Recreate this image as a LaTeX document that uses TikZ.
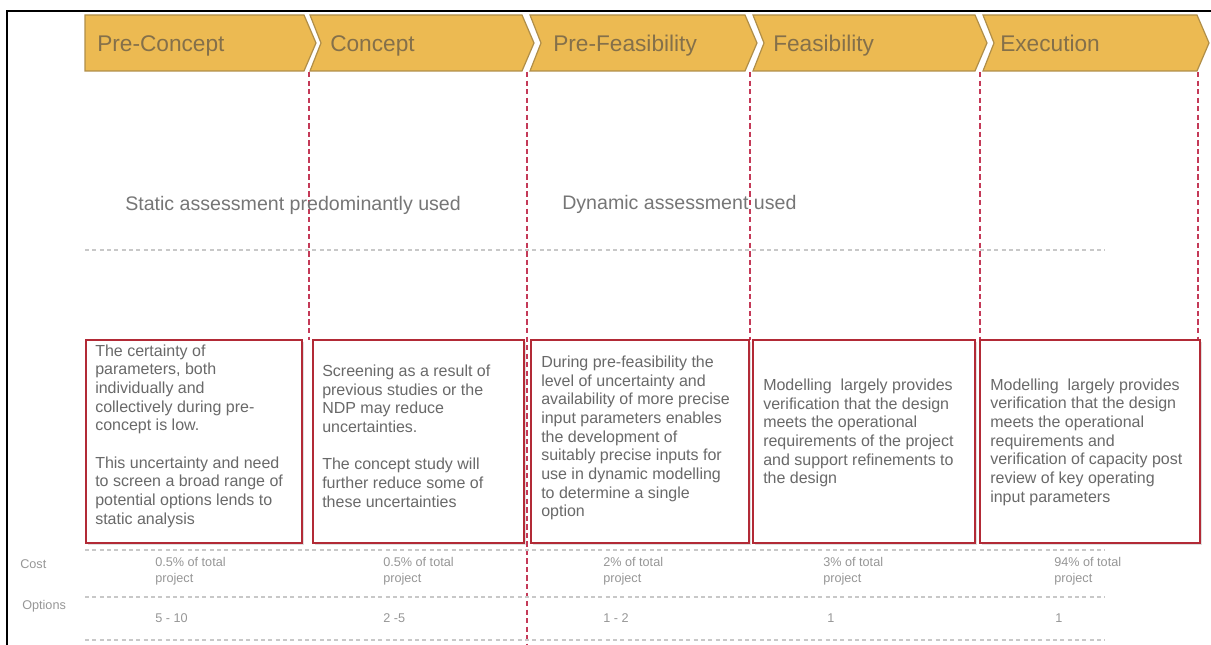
\documentclass[tikz,border=0pt]{standalone}
\usepackage{fontspec}
\setmainfont{Liberation Sans}
\usetikzlibrary{shadows}

\definecolor{chevfill}{RGB}{236,186,82}
\definecolor{chevline}{RGB}{176,142,72}
\definecolor{chevtext}{RGB}{132,112,74}
\definecolor{boxred}{RGB}{178,42,54}
\definecolor{splitred}{RGB}{196,58,88}
\definecolor{gridgrey}{RGB}{200,200,200}
\definecolor{bodygrey}{RGB}{105,105,105}
\definecolor{headgrey}{RGB}{118,118,118}
\definecolor{smallgrey}{RGB}{150,150,150}

\begin{document}
\begin{tikzpicture}[x=0.75pt,y=0.75pt,yscale=-1,xscale=1,
  chevron/.style={fill=chevfill, draw=chevline, line width=0.9},
  chevlabel/.style={anchor=base west, text=chevtext, font=\fontsize{17}{20}\selectfont, inner sep=0},
  phasebox/.style={draw=boxred, line width=1.3, fill=white, drop shadow={opacity=0.25, shadow xshift=1.2pt, shadow yshift=-1.2pt}},
  boxtext/.style={anchor=west, align=left, text=bodygrey, font=\fontsize{12}{14}\selectfont, inner sep=0},
  splitline/.style={draw=splitred, line width=1.3, dash pattern=on 4pt off 2.4pt},
  gridline/.style={draw=gridgrey, line width=0.8, dash pattern=on 3pt off 2.5pt},
  headtext/.style={anchor=west, text=headgrey, font=\fontsize{14.7}{17}\selectfont, inner sep=0},
  rowtext/.style={anchor=west, align=left, text=smallgrey, font=\fontsize{9.5}{12}\selectfont, inner sep=0}]
\useasboundingbox (0,0) rectangle (1211,645);

% Frame
\draw [line width=1.5]  (7,645) -- (7,11) -- (1211,11) ;

% Phase chevrons
\draw [chevron]  (85,15) -- (304,15) -- (316,43) -- (304,71) -- (85,71) -- cycle ;
\draw [chevron]  (310,15) -- (522,15) -- (534,43) -- (522,71) -- (310,71) -- (321,43) -- cycle ;
\draw [chevron]  (530,15) -- (745,15) -- (757,43) -- (745,71) -- (530,71) -- (541,43) -- cycle ;
\draw [chevron]  (753,15) -- (975,15) -- (987,43) -- (975,71) -- (753,71) -- (764,43) -- cycle ;
\draw [chevron]  (983,15) -- (1197,15) -- (1209,43) -- (1197,71) -- (983,71) -- (994,43) -- cycle ;
% Text Node
\node [chevlabel] (preconcept) at (97,52) {Pre-Concept};
\node [chevlabel] (concept) at (330,52) {Concept};
\node [chevlabel] (prefeas) at (553,52) {Pre-Feasibility};
\node [chevlabel] (feas) at (773,52) {Feasibility};
\node [chevlabel] (execution) at (1000,52) {Execution};

% Phase dividers
\draw [splitline]  (309,72) -- (309,340) ;
\draw [splitline]  (527,72) -- (527,645) ;
\draw [splitline]  (750,72) -- (750,340) ;
\draw [splitline]  (980,72) -- (980,340) ;
\draw [splitline]  (1198,72) -- (1198,340) ;

% Assessment type
\node [headtext] (static) at (125,205) {Static assessment predominantly used};
\node [headtext] (dynamic) at (562,204) {Dynamic assessment used};
\draw [gridline]  (85,250) -- (1105,250) ;

% Phase boxes
\draw [phasebox]  (86,340) rectangle (302,543) ;
\draw [phasebox]  (313,340) rectangle (524,543) ;
\draw [phasebox]  (531,340) rectangle (749,543) ;
\draw [phasebox]  (753,340) rectangle (975,543) ;
\draw [phasebox]  (980,340) rectangle (1200,543) ;
% Text Node
\node [boxtext] (preconcepttext) at (95,436) {The certainty of\\parameters, both\\individually and\\collectively during pre-\\concept is low.\\[14pt]This uncertainty and need\\to screen a broad range of\\potential options lends to\\static analysis};
\node [boxtext] (concepttext) at (322,436) {Screening as a result of\\previous studies or the\\NDP may reduce\\uncertainties.\\[14pt]The concept study will\\further reduce some of\\these uncertainties};
\node [boxtext] (prefeastext) at (541,438) {During pre-feasibility the\\level of uncertainty and\\availability of more precise\\input parameters enables\\the development of\\suitably precise inputs for\\use in dynamic modelling\\to determine a single\\option};
\node [boxtext] (feastext) at (763,433) {Modelling\ \ largely provides\\verification that the design\\meets the operational\\requirements of the project\\and support refinements to\\the design};
\node [boxtext] (executiontext) at (990,442) {Modelling\ \ largely provides\\verification that the design\\meets the operational\\requirements and\\verification of capacity post\\review of key operating\\input parameters};

% Cost and options rows
\draw [gridline]  (85,550) -- (1105,550) ;
\draw [gridline]  (85,597) -- (1105,597) ;
\draw [gridline]  (85,640) -- (1105,640) ;
\node [rowtext] (costlabel) at (20,564) {Cost};
\node [rowtext] (optionslabel) at (22,606) {Options};
\node [rowtext] (cost1) at (155,571) {0.5\% of total\\project};
\node [rowtext] (cost2) at (383,571) {0.5\% of total\\project};
\node [rowtext] (cost3) at (603,571) {2\% of total\\project};
\node [rowtext] (cost4) at (823,571) {3\% of total\\project};
\node [rowtext] (cost5) at (1054,571) {94\% of total\\project};
\node [rowtext] (options1) at (155,618) {5 - 10};
\node [rowtext] (options2) at (383,618) {2 -5};
\node [rowtext] (options3) at (603,618) {1 - 2};
\node [rowtext] (options4) at (827,618) {1};
\node [rowtext] (options5) at (1055,618) {1};

\end{tikzpicture}
\end{document}
